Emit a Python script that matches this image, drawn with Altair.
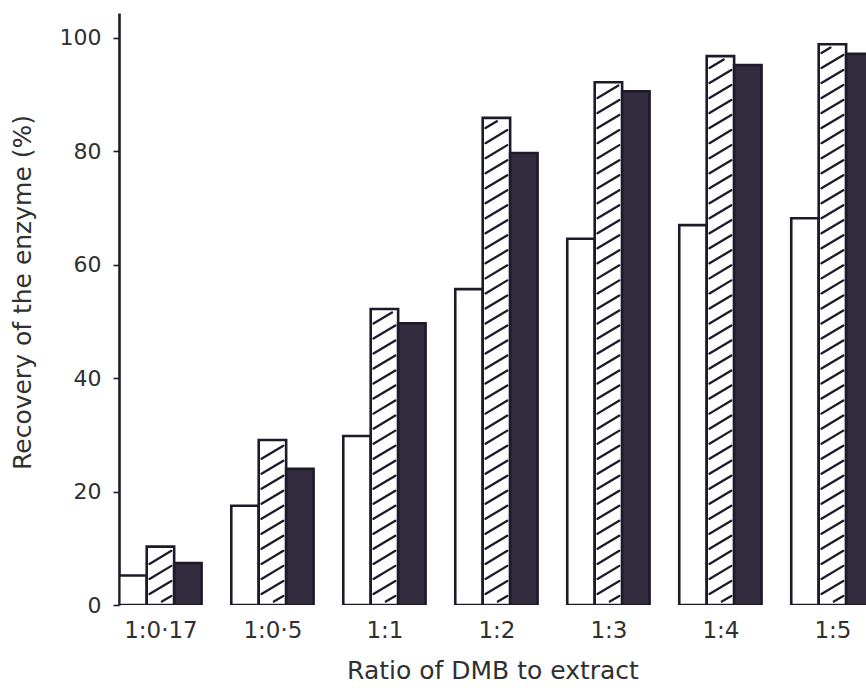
import altair as alt
import pandas as pd

# Recovery of the enzyme (%) for each DMB : extract ratio, three series
categories = ["1:0·17", "1:0·5", "1:1", "1:2", "1:3", "1:4", "1:5"]
series_names = ["open", "hatched", "dark"]
open_vals = [5.2, 17.5, 29.8, 55.7, 64.6, 67.0, 68.2]
hatched_vals = [10.3, 29.1, 52.2, 85.9, 92.2, 96.8, 98.9]
dark_vals = [7.4, 24.0, 49.7, 79.7, 90.6, 95.2, 97.2]

BAR_W = 0.245           # bar width in group units
OFFSETS = [-BAR_W, 0.0, BAR_W]
FONT = "DejaVu Sans"
INK = "#1f1a29"
TEXT = "#303030"

rows = []
for s, (name, vals) in enumerate(zip(series_names, [open_vals, hatched_vals, dark_vals])):
    for i, v in enumerate(vals):
        c = i + OFFSETS[s]
        rows.append({"series": name, "cat": categories[i], "x": c - BAR_W / 2,
                     "x2": c + BAR_W / 2, "value": v})
bars = pd.DataFrame(rows)

# diagonal hatching inside the hatched bars, in data units
SPACING, RISE, INSET = 2.65, 2.3, 0.025
hatch = []
for i, h in enumerate(hatched_vals):
    xl, xr = i - BAR_W / 2 + INSET, i + BAR_W / 2 - INSET
    lo, hi = 0.6, h - 0.6
    y0 = lo - RISE + 1.0
    while y0 < hi:
        t0 = max(0.0, (lo - y0) / RISE)
        t1 = min(1.0, (hi - y0) / RISE)
        if t1 - t0 > 0.05:
            hatch.append({"x": xl + t0 * (xr - xl), "x2": xl + t1 * (xr - xl),
                          "y": y0 + t0 * RISE, "y2": y0 + t1 * RISE})
        y0 += SPACING
hatch = pd.DataFrame(hatch)

xscale = alt.Scale(domain=[-0.37, 6.3], nice=False, zero=False)
yscale = alt.Scale(domain=[0, 104.4], nice=False)

label_expr = "[" + ",".join("'%s'" % c for c in categories) + "][datum.value]"

xaxis = alt.Axis(values=list(range(len(categories))), labelExpr=label_expr,
                 domain=False, ticks=False, grid=False, labelPadding=14,
                 labelFontSize=23, labelFont=FONT, labelColor=TEXT,
                 title="Ratio of DMB to extract", titleFontSize=25, titleFont=FONT,
                 titleFontWeight="normal", titleColor=TEXT, titlePadding=16)
yaxis = alt.Axis(values=[0, 20, 40, 60, 80, 100], grid=False, domainColor=INK,
                 domainWidth=2.6, tickColor=INK, tickWidth=1.6, tickSize=6,
                 labelFontSize=22, labelFont=FONT, labelColor=TEXT, labelPadding=12,
                 title="Recovery of the enzyme (%)", titleFontSize=25, titleFont=FONT,
                 titleFontWeight="normal", titleColor=TEXT,
                 titleX=-97, titleY=279, titleBaseline="middle", titleAlign="center",
                 titleAngle=270)

base = alt.Chart(bars)

bar_layer = base.mark_bar(stroke=INK, strokeWidth=2.6, clip=True).encode(
    x=alt.X("x:Q", scale=xscale, axis=xaxis),
    x2="x2:Q",
    y=alt.Y("value:Q", scale=yscale, axis=yaxis),
    y2=alt.datum(0),
    fill=alt.Fill("series:N", scale=alt.Scale(domain=series_names,
                                              range=["#ffffff", "#ffffff", "#332c3e"]),
                  legend=None),
)

hatch_layer = alt.Chart(hatch).mark_rule(color=INK, strokeWidth=2.3, clip=True,
                                         strokeCap="round").encode(
    x=alt.X("x:Q", scale=xscale), x2="x2:Q",
    y=alt.Y("y:Q", scale=yscale), y2="y2:Q",
)

chart = alt.layer(bar_layer, hatch_layer).properties(
    width=747, height=592,
    autosize=alt.AutoSizeParams(type="none"),
    padding={"left": 119, "top": 13, "right": 0, "bottom": 83},
    background="white",
).configure_view(stroke=None)

chart.save("out.html", embed_options={"renderer": "svg", "actions": False})
